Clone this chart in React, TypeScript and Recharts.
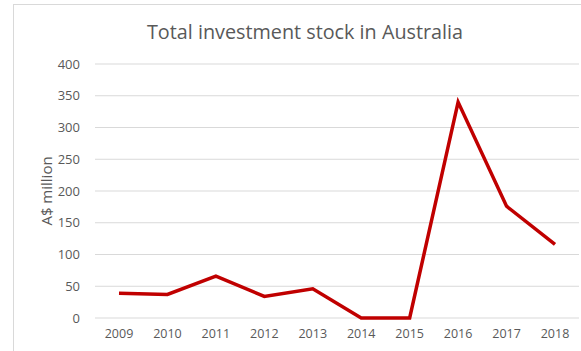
import { CartesianGrid, Line, LineChart, XAxis, YAxis } from 'recharts'

const YEARS = ['2009', '2010', '2011', '2012', '2013', '2014', '2015', '2016', '2017', '2018']
const STOCK = [39, 37, 66, 34, 46, 0, 0, 340, 176, 116]
const Y_TICKS = [0, 50, 100, 150, 200, 250, 300, 350, 400]

const FONT = '"Open Sans", sans-serif'
const TEXT_GRAY = '#595959'

export default function App() {
  const data = YEARS.map((year, i) => ({ year, stock: STOCK[i] }))

  return (
    <div style={{ position: 'absolute', left: 0, top: 0, width: 581, height: 351, background: '#fff', fontFamily: FONT }}>
      {/* chart area frame */}
      <div
        style={{
          position: 'absolute',
          left: 13,
          top: 4,
          width: 580,
          height: 360,
          border: '1px solid #d9d9d9',
          boxSizing: 'border-box',
        }}
      />
      <div
        style={{
          position: 'absolute',
          left: 0,
          top: 18,
          width: 610,
          textAlign: 'center',
          fontSize: 19.8,
          color: TEXT_GRAY,
        }}
      >
        Total investment stock in Australia
      </div>
      <div style={{ position: 'absolute', left: 0, top: 0 }}>
        <LineChart width={581} height={351} data={data} margin={{ top: 64, right: 2, left: 0, bottom: 3 }}>
          {/* the grid line at 0 doubles as the axis line, so it stays under the series */}
          <CartesianGrid vertical={false} stroke="#d9d9d9" />
          <XAxis
            dataKey="year"
            height={30}
            padding={{ left: 24, right: 24 }}
            tickLine={false}
            axisLine={false}
            tick={{ fill: TEXT_GRAY, fontSize: 12.5, fontFamily: FONT }}
            tickMargin={5}
            interval={0}
          />
          <YAxis
            width={95}
            domain={[0, 400]}
            ticks={Y_TICKS}
            tickLine={false}
            axisLine={false}
            tick={{ fill: TEXT_GRAY, fontSize: 13, fontFamily: FONT }}
            tickMargin={9}
            label={{
              value: 'A$ million',
              angle: -90,
              position: 'center',
              dx: -1,
              fill: TEXT_GRAY,
              fontSize: 15,
              fontFamily: FONT,
            }}
          />
          <Line
            type="linear"
            dataKey="stock"
            stroke="#C00000"
            strokeWidth={3.5}
            dot={false}
            isAnimationActive={false}
          />
        </LineChart>
      </div>
    </div>
  )
}
